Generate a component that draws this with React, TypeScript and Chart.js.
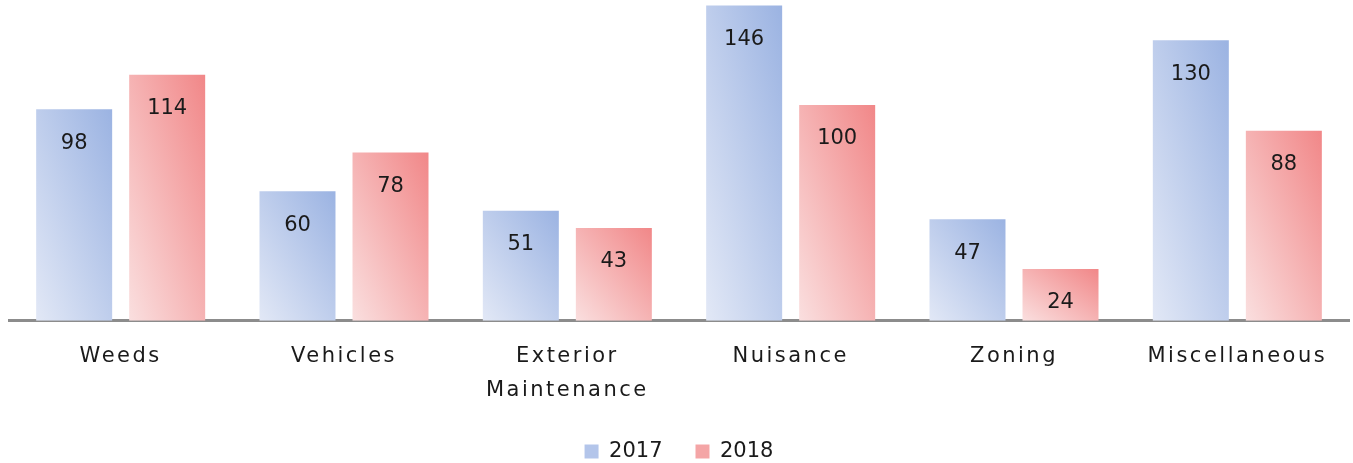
import React, { useEffect, useRef } from "react";
import { Chart, registerables } from "chart.js";

Chart.register(...registerables);

const categories: (string | string[])[] = [
  "Weeds",
  "Vehicles",
  ["Exterior", "Maintenance"],
  "Nuisance",
  "Zoning",
  "Miscellaneous",
];
const values2017 = [98, 60, 51, 146, 47, 130];
const values2018 = [114, 78, 43, 100, 24, 88];
const seriesNames = ["2017", "2018"];

const gradStops = [
  ["#e2e8f6", "#9bb3e2"],
  ["#fadfdf", "#f18788"],
];
const legendColors = ["#b3c5ea", "#f4a5a6"];

const FONT = "'DejaVu Sans', sans-serif";

const gradientPlugin = {
  id: "barGradient",
  beforeDatasetsDraw(chart: any) {
    const ctx = chart.ctx;
    chart.data.datasets.forEach((ds: any, di: number) => {
      const meta = chart.getDatasetMeta(di);
      meta.data.forEach((el: any) => {
        const w = el.width;
        const h = Math.abs(el.base - el.y);
        const cx = el.x;
        const cy = (el.base + el.y) / 2;
        const n2 = h * h + w * w || 1;
        const k = (w * h) / n2;
        const dx = h * k;
        const dy = -w * k;
        const g = ctx.createLinearGradient(cx - dx, cy - dy, cx + dx, cy + dy);
        g.addColorStop(0, gradStops[di][0]);
        g.addColorStop(1, gradStops[di][1]);
        el.options = { ...el.options, backgroundColor: g };
      });
    });
  },
};

const labelPlugin = {
  id: "valueLabels",
  afterDatasetsDraw(chart: any) {
    const ctx = chart.ctx;
    ctx.save();
    (ctx as any).letterSpacing = "0px";
    ctx.font = `21px ${FONT}`;
    ctx.fillStyle = "#1a1a1a";
    ctx.textAlign = "center";
    ctx.textBaseline = "middle";
    chart.data.datasets.forEach((ds: any, di: number) => {
      const meta = chart.getDatasetMeta(di);
      meta.data.forEach((el: any, i: number) => {
        ctx.fillText(String(ds.data[i]), el.x, el.y + 34);
      });
    });
    ctx.restore();
  },
};

const spacingPlugin = {
  id: "spacing",
  beforeDraw(chart: any) {
    (chart.ctx as any).letterSpacing = "0px";
  },
  afterDatasetsDraw(chart: any) {
    (chart.ctx as any).letterSpacing = "2.5px";
  },
  afterDraw(chart: any) {
    (chart.ctx as any).letterSpacing = "0px";
  },
};

export default function App() {
  const ref = useRef<HTMLCanvasElement>(null);
  useEffect(() => {
    if (!ref.current) return;
    const chart = new Chart(ref.current, {
      type: "bar",
      data: {
        labels: categories as any,
        datasets: [
          { label: seriesNames[0], data: values2017, backgroundColor: legendColors[0] },
          { label: seriesNames[1], data: values2018, backgroundColor: legendColors[1] },
        ],
      },
      options: {
        animation: false,
        responsive: true,
        maintainAspectRatio: false,
        datasets: { bar: { categoryPercentage: 0.833, barPercentage: 0.817 } } as any,
        layout: { padding: { left: 9, right: 4, top: 0, bottom: -9 } },
        scales: {
          x: {
            grid: { display: false },
            border: { display: true, color: "#8c8c8c", width: 3 },
            ticks: {
              color: "#1a1a1a",
              font: { family: FONT, size: 21, lineHeight: 1.6 },
              padding: 11,
              maxRotation: 0,
              autoSkip: false,
              z: 1,
            } as any,
            afterFit(scale: any) {
              scale.height = scale.height - 10;
            },
          },
          y: {
            display: false,
            min: 0,
            max: 148.6,
          },
        },
        plugins: {
          legend: {
            position: "bottom",
            labels: {
              boxWidth: 14,
              boxHeight: 14,
              color: "#1a1a1a",
              font: { family: FONT, size: 21 },
              padding: 33,
            },
          },
          tooltip: { enabled: false },
        },
      },
      plugins: [gradientPlugin, labelPlugin, spacingPlugin],
    });
    return () => chart.destroy();
  }, []);
  return (
    <div style={{ position: "fixed", left: 0, top: 0, width: 1353, height: 463, background: "#fff" }}>
      <canvas ref={ref} />
    </div>
  );
}
